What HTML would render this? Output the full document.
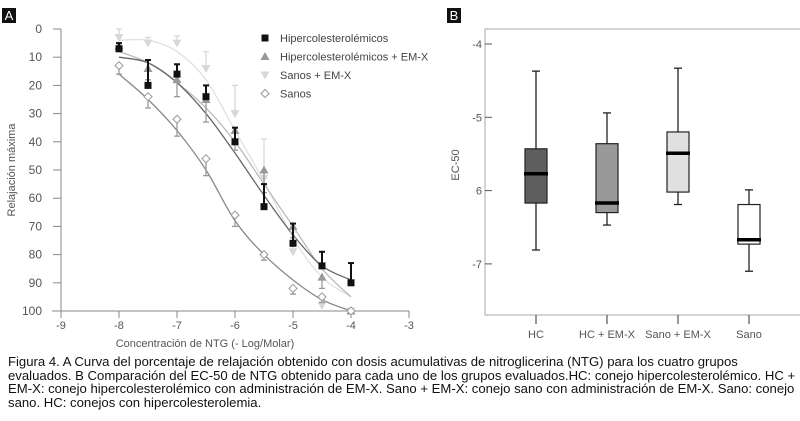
<!DOCTYPE html>
<html><head><meta charset="utf-8">
<style>
html,body{margin:0;padding:0;background:#fff;width:800px;height:421px;overflow:hidden}
svg text{font-family:"Liberation Sans",sans-serif}
#cap{position:absolute;left:8px;top:355px;width:790px;font-family:"Liberation Sans",sans-serif;font-size:13px;line-height:13.5px;color:#111;white-space:nowrap;transform:scaleX(1.01);transform-origin:0 0}
</style></head>
<body>
<svg id="chart" width="800" height="421" style="position:absolute;left:0;top:0">
  <rect x="2" y="8" width="14" height="15" fill="#111"/>
  <text x="9" y="20" font-size="13" fill="#fff" text-anchor="middle">A</text>
  <rect x="447" y="8" width="14" height="15" fill="#111"/>
  <text x="454" y="20" font-size="13" fill="#fff" text-anchor="middle">B</text>
  <g id="ga"></g>
  <g id="gb"></g>
</svg>
<div id="cap">Figura 4. A Curva del porcentaje de relajación obtenido con dosis acumulativas de nitroglicerina (NTG) para los cuatro grupos<br>evaluados. B Comparación del EC-50 de NTG obtenido para cada uno de los grupos evaluados.HC: conejo hipercolesterolémico. HC +<br>EM-X: conejo hipercolesterolémico con administración de EM-X. Sano + EM-X: conejo sano con administración de EM-X. Sano: conejo<br>sano. HC: conejos con hipercolesterolemia.</div>
<script>
// Panel A data
const doses = [-8,-7.5,-7,-6.5,-6,-5.5,-5,-4.5,-4];
const hcVals = [7,20,16,24,40,63,76,84,90];
const hcErrTop = [5,11,12.5,20,35,55,69,79,83];
const hcFit = [10,12,19,30,44,59,73,84,89];
const hcxVals = [6,14,18,25,36,50,70,88,100];
const hcxErrBot = [8,18,24,33,43,58,74,92,100];
const hcxFit = [8,12,19,28,40,55,70,85,95];
const sxVals = [3,5,5,14,30,53,79,98,100];
const sxErrTop = [0,3,2.5,8,20,39,72,96,100];
const sxFit = [4,4,8,18,36,54,74,88,95];
const sVals = [13,24,32,46,66,80,92,95,100];
const sErrBot = [16,28,38,52,70,82,94,97,100];
const sFit = [16,25,36,50,68,80,89,96,100];
const xTicks = [-9,-8,-7,-6,-5,-4,-3];
const yTicks = [0,10,20,30,40,50,60,70,80,90,100];
// Panel B data
const groups = ["HC","HC + EM-X","Sano + EM-X","Sano"];
const bMax = [-4.37,-4.94,-4.33,-5.99];
const bQ3 = [-5.43,-5.36,-5.2,-6.19];
const bMed = [-5.77,-6.17,-5.49,-6.67];
const bQ1 = [-6.17,-6.3,-6.02,-6.73];
const bMin = [-6.81,-6.47,-6.19,-7.1];
const bTicks = [-4,-5,-6,-7];
const bTickLabels = ["-4","-5","6","-7"];

const NS="http://www.w3.org/2000/svg";
function mk(p,tag,attrs,txt){const e=document.createElementNS(NS,tag);for(const k in attrs)e.setAttribute(k,attrs[k]);if(txt!==undefined)e.textContent=txt;p.appendChild(e);return e;}
const ga=document.getElementById('ga'), gb=document.getElementById('gb');
const ax=v=>61+(v+9)*58, ay=v=>29+v*2.82;

let e;
e=mk(ga,'line',{x1:61,y1:29,x2:61,y2:311,stroke:'#888','stroke-width':1});

e=mk(ga,'line',{x1:52,y1:311,x2:409,y2:311,stroke:'#888','stroke-width':1});

yTicks.forEach(t=>{
  e=mk(ga,'line',{x1:53,y1:ay(t),x2:61,y2:ay(t),stroke:'#888'});
  
  e=mk(ga,'text',{x:42,y:ay(t)+4,'font-size':12,fill:'#555','text-anchor':'end'},String(t));
  
});
xTicks.forEach(t=>{
  e=mk(ga,'line',{x1:ax(t),y1:311,x2:ax(t),y2:318,stroke:'#888'});
  
  e=mk(ga,'text',{x:ax(t),y:329,'font-size':11,fill:'#555','text-anchor':'middle'},String(t));
  
});
e=mk(ga,'text',{x:205,y:347,'font-size':11,fill:'#555','text-anchor':'middle'},'Concentración de NTG (- Log/Molar)');

e=mk(ga,'text',{x:0,y:0,'font-size':11,fill:'#555','text-anchor':'middle',transform:'translate(15,170) rotate(-90)'},'Relajación máxima');


function smooth(vals){
  const p=doses.map((d,i)=>[ax(d),ay(vals[i])]);
  let s='M'+p[0][0]+','+p[0][1];
  for(let i=0;i<p.length-1;i++){
    const p0=p[i-1]||p[i],p1=p[i],p2=p[i+1],p3=p[i+2]||p2;
    const c1=[p1[0]+(p2[0]-p0[0])/6,p1[1]+(p2[1]-p0[1])/6];
    const c2=[p2[0]-(p3[0]-p1[0])/6,p2[1]-(p3[1]-p1[1])/6];
    s+=`C${c1[0]},${c1[1]} ${c2[0]},${c2[1]} ${p2[0]},${p2[1]}`;
  }
  return s;
}
const series=[
 {name:'sanos-emx',vals:sxVals,err:sxErrTop,fit:sxFit,col:'#d8d8d8',curve:'#e0e0e0',m:'tridown'},
 {name:'hiper-emx',vals:hcxVals,err:hcxErrBot,fit:hcxFit,col:'#999',curve:'#bbb',m:'tri'},
 {name:'sanos',vals:sVals,err:sErrBot,fit:sFit,col:'#999',curve:'#888',m:'diamond'},
 {name:'hiper',vals:hcVals,err:hcErrTop,fit:hcFit,col:'#111',curve:'#666',m:'square'}
];
series.forEach(s=>{
  e=mk(ga,'path',{d:smooth(s.fit),fill:'none',stroke:s.curve,'stroke-width':1.3});
  
});
function marker(g,type,x,y,col){
  if(type==='square') return mk(g,'rect',{x:x-3.5,y:y-3.5,width:7,height:7,fill:col});
  if(type==='tri') return mk(g,'polygon',{points:`${x},${y-4.5} ${x-4.5},${y+3.5} ${x+4.5},${y+3.5}`,fill:col});
  if(type==='tridown') return mk(g,'polygon',{points:`${x},${y+4.5} ${x-4.5},${y-3.5} ${x+4.5},${y-3.5}`,fill:col});
  return mk(g,'polygon',{points:`${x},${y-4} ${x+4},${y} ${x},${y+4} ${x-4},${y}`,fill:'#fff',stroke:col,'stroke-width':1});
}
series.forEach(s=>{
  doses.forEach((d,i)=>{
    const x=ax(d),y=ay(s.vals[i]),ye=ay(s.err[i]);
    const w=s.m==='square'?2:1.3;
    e=mk(ga,'line',{x1:x,y1:y,x2:x,y2:ye,stroke:s.col,'stroke-width':w});
    
    e=mk(ga,'line',{x1:x-3,y1:ye,x2:x+3,y2:ye,stroke:s.col,'stroke-width':w});
    
    e=marker(ga,s.m,x,y,s.col);
    
  });
});
const leg=[['Hipercolesterolémicos','square','#111'],['Hipercolesterolémicos + EM-X','tri','#999'],['Sanos + EM-X','tridown','#d8d8d8'],['Sanos','diamond','#999']];
leg.forEach((l,i)=>{
  const y=38+i*18.5;
  e=marker(ga,l[1],265,y,l[2]);
  
  e=mk(ga,'text',{x:280,y:y+4,'font-size':11,fill:'#444'},l[0]);
  
});

const by=v=>44+(-4-v)*73.3;
const bx=i=>536+i*71;
const fills=['#5e5e5e','#999','#e0e0e0','#fff'];
e=mk(gb,'rect',{x:485,y:29,width:320,height:286,fill:'none',stroke:'#aaa','stroke-width':1});

bTicks.forEach((t,i)=>{
  e=mk(gb,'line',{x1:485,y1:by(t),x2:492,y2:by(t),stroke:'#555'});
  
  e=mk(gb,'text',{x:482,y:by(t)+4,'font-size':11,fill:'#555','text-anchor':'end'},bTickLabels[i]);
  
});
e=mk(gb,'text',{x:0,y:0,'font-size':11,fill:'#555','text-anchor':'middle',transform:'translate(459,165) rotate(-90)'},'EC-50');

groups.forEach((g,i)=>{
  const x=bx(i);
  e=mk(gb,'line',{x1:x,y1:315,x2:x,y2:324,stroke:'#333'});
  
  e=mk(gb,'text',{x:x,y:338,'font-size':11,fill:'#555','text-anchor':'middle'},g);
  
  e=mk(gb,'line',{x1:x,y1:by(bMax[i]),x2:x,y2:by(bMin[i]),stroke:'#222','stroke-width':1.3});
  
  e=mk(gb,'line',{x1:x-4,y1:by(bMax[i]),x2:x+4,y2:by(bMax[i]),stroke:'#222','stroke-width':1.3});
  
  e=mk(gb,'line',{x1:x-4,y1:by(bMin[i]),x2:x+4,y2:by(bMin[i]),stroke:'#222','stroke-width':1.3});
  
  e=mk(gb,'rect',{x:x-11,y:by(bQ3[i]),width:22,height:by(bQ1[i])-by(bQ3[i]),fill:fills[i],stroke:'#222','stroke-width':1.2});
  
  e=mk(gb,'line',{x1:x-12,y1:by(bMed[i]),x2:x+12,y2:by(bMed[i]),stroke:'#000','stroke-width':3.5});
  
});
</script>
</body></html>
